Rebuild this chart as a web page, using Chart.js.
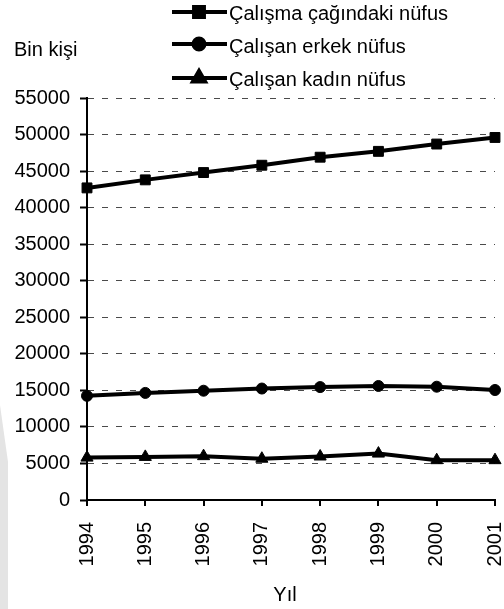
<!DOCTYPE html>
<html>
<head>
<meta charset="utf-8">
<script src="https://cdn.jsdelivr.net/npm/chart.js@4"></script>
<style>
  html, body { margin: 0; padding: 0; background: #fff; }
  #wrap { position: relative; width: 504px; height: 609px; }
  #edge { position: absolute; left: 0; top: 0; width: 504px; height: 609px;
          background: #e4e4e4; clip-path: polygon(0 405px, 8px 462px, 8px 609px, 0 609px); }
  canvas { position: absolute; left: 0; top: 0; }
</style>
</head>
<body>
<div id="wrap">
  <div id="edge"></div>
  <canvas id="c" width="504" height="609"></canvas>
</div>
<script>
// ---- data ----
const years = ['1994', '1995', '1996', '1997', '1998', '1999', '2000', '2001'];
const seriesNames = ['Çalışma çağındaki nüfus', 'Çalışan erkek nüfus', 'Çalışan kadın nüfus'];
const calismaCagi = [42700, 43800, 44800, 45800, 46900, 47700, 48700, 49600];
const erkekNufus = [14250, 14650, 14950, 15250, 15450, 15600, 15500, 15050];
const kadinNufus = [5800, 5900, 6000, 5650, 5950, 6350, 5450, 5450];
const yAxisTitle = 'Bin kişi';
const xAxisTitle = 'Yıl';
const yMin = 0, yMax = 55000, yStep = 5000;

const FONT = '"Liberation Sans", Arial, sans-serif';
const styles = [
  { pointStyle: 'rect', radius: 7 },
  { pointStyle: 'circle', radius: 5.5 },
  { pointStyle: 'triangle', radius: 7 }
];
const legendRows = [
  { line: 12, text: 14 },
  { line: 44, text: 47 },
  { line: 78, text: 80 }
];

const extras = {
  id: 'extras',
  afterDraw(chart) {
    const ctx = chart.ctx;
    ctx.save();
    ctx.fillStyle = '#000';
    ctx.font = '20px ' + FONT;
    ctx.textBaseline = 'middle';
    ctx.textAlign = 'left';
    ctx.fillText(yAxisTitle, 14, 50);
    ctx.textAlign = 'center';
    ctx.fillText(xAxisTitle, 285, 595);
    // legend
    chart.data.datasets.forEach((ds, i) => {
      const r = legendRows[i];
      ctx.strokeStyle = '#000';
      ctx.lineWidth = 4;
      ctx.beginPath();
      ctx.moveTo(172, r.line);
      ctx.lineTo(227, r.line);
      ctx.stroke();
      ctx.fillStyle = '#000';
      Chart.helpers.drawPoint(ctx, {
        pointStyle: styles[i].pointStyle, rotation: 0,
        radius: styles[i].radius, borderWidth: 1
      }, 199, r.line);
      ctx.fillStyle = '#000';
      ctx.textAlign = 'left';
      ctx.fillText(ds.label, 229, r.text);
    });
    ctx.restore();
  }
};

const mk = (i, data) => ({
  label: seriesNames[i],
  data: data,
  borderColor: '#000',
  backgroundColor: '#000',
  borderWidth: 4,
  pointStyle: styles[i].pointStyle,
  pointRadius: styles[i].radius,
  pointHoverRadius: styles[i].radius,
  pointBackgroundColor: '#000',
  pointBorderColor: '#000',
  pointBorderWidth: 1,
  tension: 0,
  fill: false
});

new Chart(document.getElementById('c'), {
  type: 'line',
  data: {
    labels: years,
    datasets: [mk(0, calismaCagi), mk(1, erkekNufus), mk(2, kadinNufus)]
  },
  options: {
    responsive: false,
    animation: false,
    devicePixelRatio: 1,
    layout: { padding: { top: 98, right: 9, bottom: 0, left: 0 } },
    plugins: { legend: { display: false }, tooltip: { enabled: false } },
    scales: {
      x: {
        offset: false,
        grid: { drawOnChartArea: false, drawTicks: true, tickLength: 6, color: '#000', lineWidth: 2 },
        border: { color: '#000', width: 2 },
        ticks: { color: '#000', font: { size: 20, family: FONT }, maxRotation: 90, minRotation: 90, padding: 16, autoSkip: false },
        afterFit(s) { s.height = 109; s.paddingLeft = 0; s.paddingRight = 0; }
      },
      y: {
        min: yMin, max: yMax,
        grid: { color: '#4a4a4a', lineWidth: 1, tickLength: 7, tickColor: '#000', tickWidth: 2 },
        border: { color: '#000', width: 2, dash: [6, 8] },
        ticks: { stepSize: yStep, color: '#000', font: { size: 20, family: FONT }, padding: 10,
                 callback: (v) => String(v) },
        afterFit(s) { s.width = 87; }
      }
    }
  },
  plugins: [extras]
});
</script>
</body>
</html>
